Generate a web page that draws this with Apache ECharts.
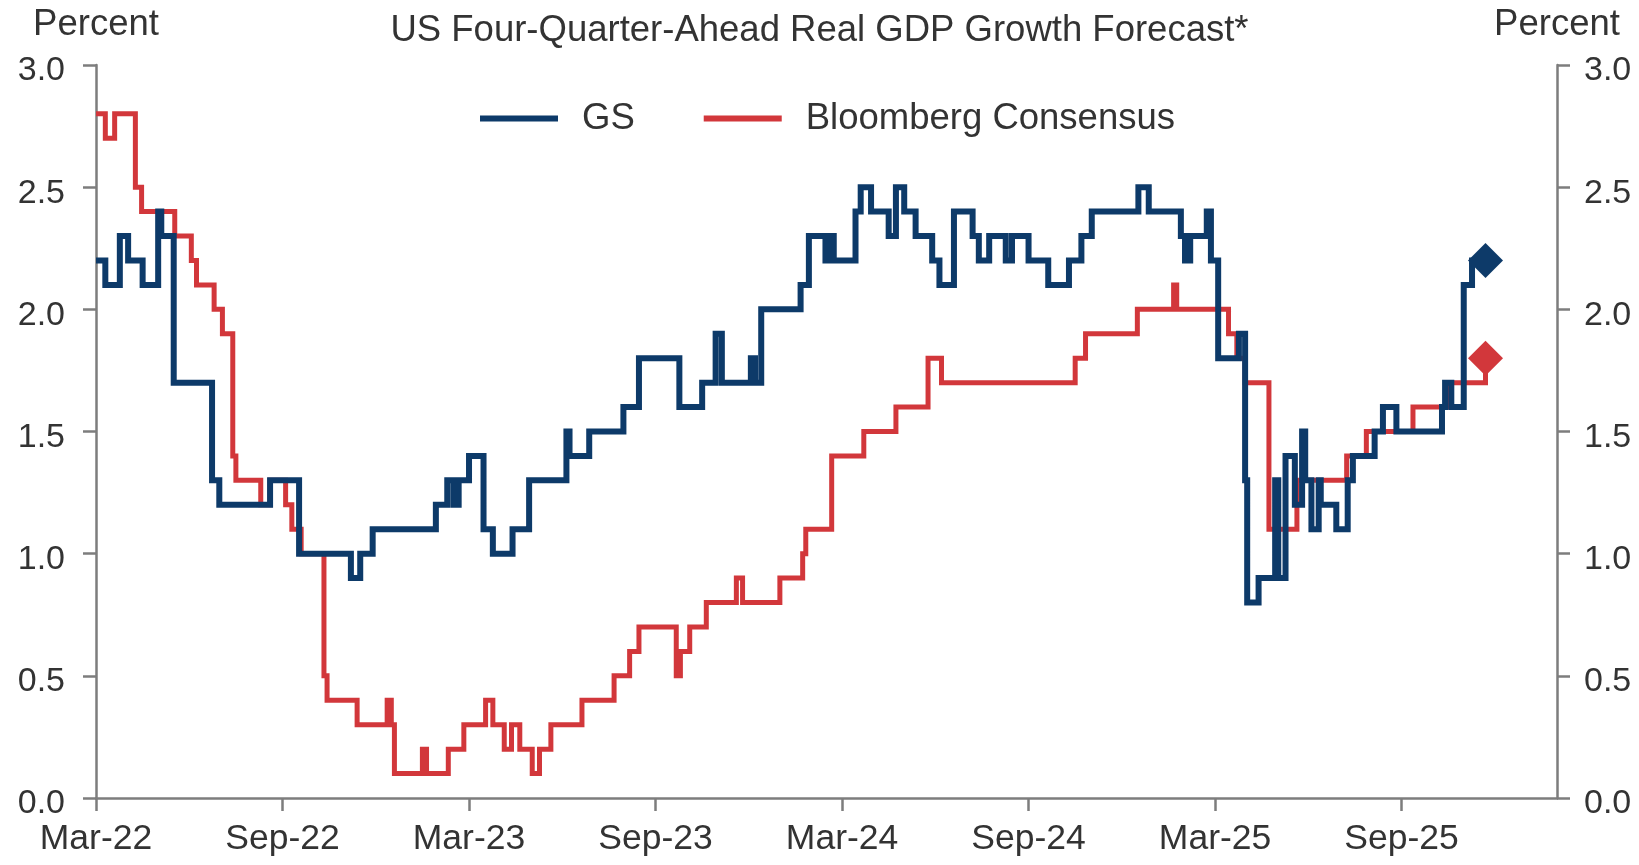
<!DOCTYPE html>
<html>
<head>
<meta charset="utf-8">
<title>US Four-Quarter-Ahead Real GDP Growth Forecast</title>
<script src="https://cdn.jsdelivr.net/npm/echarts@6/dist/echarts.min.js"></script>
<style>
  html, body { margin: 0; padding: 0; background: #ffffff; }
  #chart { width: 1639px; height: 865px; }
</style>
</head>
<body>
<div id="chart"></div>
<script>
// ---- Text ----
const chartTitle = 'US Four-Quarter-Ahead Real GDP Growth Forecast*';
const unitName = 'Percent';
const gsName = 'GS';
const bbgName = 'Bloomberg Consensus';

// ---- Axis ticks ----
const xTickLabels = ['Mar-22', 'Sep-22', 'Mar-23', 'Sep-23', 'Mar-24', 'Sep-24', 'Mar-25', 'Sep-25'];
const xMonthsPerTick = 6;
const xEndMonths = 47;          // axis runs Mar-22 .. Feb-26
const yMin = 0, yMax = 3, yStep = 0.5;

// ---- GS forecast: date each level starts, and the level (%) ----
const gsDates = [
  '2022-03-01', '2022-03-10', '2022-03-24', '2022-04-02', '2022-04-16', '2022-05-01', '2022-05-04', '2022-05-16',
  '2022-06-23', '2022-06-30', '2022-08-19', '2022-09-17', '2022-11-07', '2022-11-16', '2022-11-28',
  '2023-01-29', '2023-02-10', '2023-02-16', '2023-02-21', '2023-03-01', '2023-03-15', '2023-03-24',
  '2023-04-13', '2023-04-29', '2023-06-05', '2023-06-08', '2023-06-27', '2023-07-30', '2023-08-15',
  '2023-09-24', '2023-10-16', '2023-10-29', '2023-11-05', '2023-12-03', '2023-12-07', '2023-12-13',
  '2024-01-21', '2024-01-29', '2024-02-15', '2024-02-19', '2024-02-23', '2024-03-14', '2024-03-19',
  '2024-03-29', '2024-04-16', '2024-04-23', '2024-05-01', '2024-05-12', '2024-05-28', '2024-06-05',
  '2024-06-19', '2024-07-07', '2024-07-13', '2024-07-23', '2024-08-09', '2024-08-15', '2024-09-01',
  '2024-09-20', '2024-10-10', '2024-10-22', '2024-11-02', '2024-12-17', '2024-12-27', '2025-01-28',
  '2025-02-02', '2025-02-07', '2025-02-23', '2025-02-27', '2025-03-04', '2025-03-24', '2025-03-30',
  '2025-04-02', '2025-04-13', '2025-04-29', '2025-05-02', '2025-05-09', '2025-05-18', '2025-05-25',
  '2025-05-28', '2025-06-04', '2025-06-11', '2025-06-13', '2025-06-28', '2025-07-09', '2025-07-14',
  '2025-08-05', '2025-08-13', '2025-08-26', '2025-10-10', '2025-10-13', '2025-10-19', '2025-11-01',
  '2025-11-09', '2025-11-22'
];
const gsValues = [
  2.2, 2.1, 2.3, 2.2, 2.1, 2.4, 2.3, 1.7,
  1.3, 1.2, 1.3, 1.0, 0.9, 1.0, 1.1,
  1.2, 1.3, 1.2, 1.3, 1.4, 1.1, 1.0,
  1.1, 1.3, 1.5, 1.4, 1.5, 1.6, 1.8,
  1.6, 1.7, 1.9, 1.7, 1.8, 1.7, 2.0,
  2.1, 2.3, 2.2, 2.3, 2.2, 2.4, 2.5,
  2.4, 2.3, 2.5, 2.4, 2.3, 2.2, 2.1,
  2.4, 2.3, 2.2, 2.3, 2.2, 2.3, 2.2,
  2.1, 2.2, 2.3, 2.4, 2.5, 2.4, 2.3,
  2.2, 2.3, 2.4, 2.2, 1.8, 1.9, 1.3,
  0.8, 0.9, 1.3, 0.9, 1.4, 1.2, 1.5,
  1.3, 1.1, 1.3, 1.2, 1.1, 1.3, 1.4,
  1.5, 1.6, 1.5, 1.6, 1.7, 1.6, 2.1,
  2.2, 2.2
];

// ---- Bloomberg consensus: date each level starts, and the level (%) ----
const bbgDates = [
  '2022-03-01', '2022-03-10', '2022-03-19', '2022-04-09', '2022-04-15', '2022-05-17', '2022-06-03',
  '2022-06-08', '2022-06-25', '2022-07-03', '2022-07-13', '2022-07-16', '2022-08-10', '2022-08-19',
  '2022-09-04', '2022-09-10', '2022-09-19', '2022-10-11', '2022-10-14', '2022-11-13', '2022-12-12',
  '2022-12-16', '2022-12-19', '2023-01-16', '2023-01-20', '2023-02-11', '2023-02-26', '2023-03-17',
  '2023-03-24', '2023-04-05', '2023-04-12', '2023-04-20', '2023-05-02', '2023-05-09', '2023-05-20',
  '2023-06-20', '2023-07-21', '2023-08-06', '2023-08-15', '2023-09-21', '2023-09-25', '2023-10-04',
  '2023-10-20', '2023-11-19', '2023-11-25', '2024-01-01', '2024-01-23', '2024-01-26', '2024-02-21',
  '2024-03-22', '2024-04-23', '2024-05-24', '2024-06-07', '2024-10-16', '2024-10-26', '2024-12-16',
  '2025-01-21', '2025-01-24', '2025-03-14', '2025-03-22', '2025-03-30', '2025-04-23', '2025-05-20',
  '2025-07-08', '2025-07-27', '2025-09-12', '2025-10-15', '2025-11-22'
];
const bbgValues = [
  2.8, 2.7, 2.8, 2.5, 2.4, 2.3, 2.2,
  2.1, 2.0, 1.9, 1.4, 1.3, 1.2, 1.3,
  1.2, 1.1, 1.0, 0.5, 0.4, 0.3, 0.4,
  0.3, 0.1, 0.2, 0.1, 0.2, 0.3, 0.4,
  0.3, 0.2, 0.3, 0.2, 0.1, 0.2, 0.3,
  0.4, 0.5, 0.6, 0.7, 0.5, 0.6, 0.7,
  0.8, 0.9, 0.8, 0.9, 1.0, 1.1, 1.4,
  1.5, 1.6, 1.8, 1.7, 1.8, 1.9, 2.0,
  2.1, 2.0, 1.9, 1.8, 1.7, 1.1, 1.3,
  1.4, 1.5, 1.6, 1.7, 1.8
];

// ---- Styling ----
const gsColor = '#0d3a69';
const bbgColor = '#d2373b';
const textColor = '#333333';
const axisColor = '#7d7d7d';
const fontFamily = '"Liberation Sans", Arial, Helvetica, sans-serif';

// Months elapsed since 1 Mar 2022 (x position on the value axis)
function monthsSinceStart(dateStr) {
  const [y, m, d] = dateStr.split('-').map(Number);
  return (y - 2022) * 12 + (m - 3) + (d - 1) / 30;
}
function toPoints(dates, values) {
  return dates.map((d, i) => [monthsSinceStart(d), values[i]]);
}

const gsPoints = toPoints(gsDates, gsValues);
const bbgPoints = toPoints(bbgDates, bbgValues);
const xTickValues = xTickLabels.map((_, i) => i * xMonthsPerTick);

function yAxisOf(position) {
  return {
    type: 'value',
    position: position,
    min: yMin,
    max: yMax,
    interval: yStep,
    name: unitName,
    nameLocation: 'end',
    nameGap: 22,
    nameTextStyle: { color: textColor, fontSize: 36.5, fontFamily: fontFamily, align: 'center', verticalAlign: 'bottom' },
    axisLine: { show: true, lineStyle: { color: axisColor, width: 2.5 } },
    axisTick: { show: true, inside: false, length: 13, lineStyle: { color: axisColor, width: 2.5 } },
    axisLabel: {
      color: textColor, fontSize: 34, fontFamily: fontFamily,
      margin: position === 'left' ? 31 : 27,
      // labels sit slightly below their ticks
      verticalAlign: 'top',
      lineHeight: 12,
      formatter: v => v.toFixed(1)
    },
    splitLine: { show: false }
  };
}

const chart = echarts.init(document.getElementById('chart'), null, { renderer: 'canvas' });
chart.setOption({
  animation: false,
  backgroundColor: '#ffffff',
  title: {
    text: chartTitle,
    left: 'center',
    top: 7,
    textStyle: { color: textColor, fontSize: 36.5, fontWeight: 'normal', fontFamily: fontFamily }
  },
  legend: {
    data: [gsName, bbgName],
    left: 475,
    top: 95,
    icon: 'rect',
    itemWidth: 78,
    itemHeight: 6,
    itemGap: 69,
    textStyle: { color: textColor, fontSize: 36.5, fontFamily: fontFamily, padding: [0, 0, 0, 19] }
  },
  grid: { left: 96, right: 82, top: 65, bottom: 67, containLabel: false },
  xAxis: {
    type: 'value',
    min: 0,
    max: xEndMonths,
    interval: xMonthsPerTick,
    axisLine: { show: true, lineStyle: { color: axisColor, width: 2.5 } },
    axisTick: { show: true, length: 13, customValues: xTickValues, lineStyle: { color: axisColor, width: 2.5 } },
    axisLabel: {
      color: textColor, fontSize: 35.5, fontFamily: fontFamily, margin: 23,
      customValues: xTickValues,
      formatter: v => {
        const i = Math.round(v / xMonthsPerTick);
        return (Math.abs(v - i * xMonthsPerTick) < 1e-6 && xTickLabels[i]) ? xTickLabels[i] : '';
      }
    },
    splitLine: { show: false }
  },
  yAxis: [yAxisOf('left'), yAxisOf('right')],
  series: [
    {
      name: bbgName,
      type: 'line',
      step: 'end',
      data: bbgPoints,
      symbol: 'none',
      z: 2,
      color: bbgColor,
      lineStyle: { color: bbgColor, width: 5, join: 'miter', cap: 'butt' }
    },
    {
      name: gsName,
      type: 'line',
      step: 'end',
      data: gsPoints,
      symbol: 'none',
      z: 3,
      color: gsColor,
      lineStyle: { color: gsColor, width: 6, join: 'miter', cap: 'butt' }
    },
    {
      name: 'latest',
      type: 'scatter',
      symbol: 'diamond',
      symbolSize: 35,
      z: 4,
      itemStyle: { opacity: 1 },
      data: [
        { value: bbgPoints[bbgPoints.length - 1], itemStyle: { color: bbgColor, opacity: 1 } },
        { value: gsPoints[gsPoints.length - 1], itemStyle: { color: gsColor, opacity: 1 } }
      ]
    }
  ]
});
</script>
</body>
</html>
